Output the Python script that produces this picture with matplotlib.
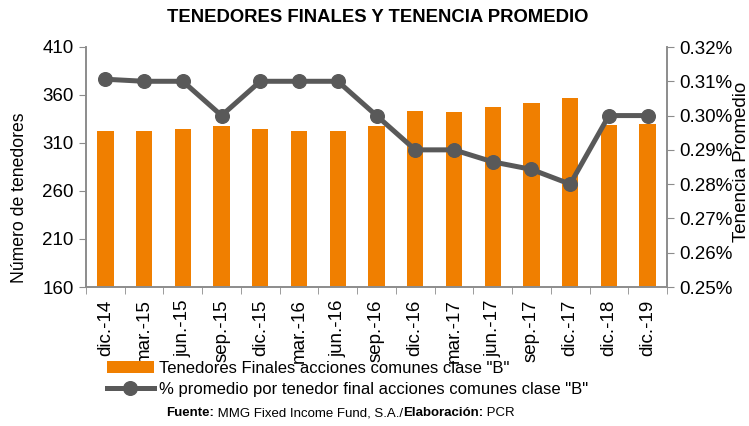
import matplotlib.pyplot as plt
from matplotlib.ticker import FuncFormatter, FixedLocator
import numpy as np

plt.rcParams['font.family'] = ['Liberation Sans', 'DejaVu Sans']

periods = ["dic.-14", "mar.-15", "jun.-15", "sep.-15", "dic.-15", "mar.-16", "jun.-16",
           "sep.-16", "dic.-16", "mar.-17", "jun.-17", "sep.-17", "dic.-17", "dic.-18", "dic.-19"]
tenedores = [322, 323, 325, 328, 325, 323, 323, 328, 343, 342, 348, 352, 357, 329, 330]
tenencia = [0.3106, 0.310, 0.310, 0.300, 0.310, 0.310, 0.310, 0.300, 0.290, 0.290,
            0.2865, 0.2843, 0.280, 0.300, 0.300]

orange = "#F07F00"
gray_line = "#595959"
spine_col = "#8C8C8C"

fig = plt.figure(figsize=(7.49, 4.26), dpi=100)
ax = fig.add_axes([86/749, 1 - 287/426, (667-86)/749, (287-47)/426])
ax2 = ax.twinx()

x = np.arange(len(periods))
bars = ax.bar(x, tenedores, width=0.42, color=orange, zorder=2)
line, = ax2.plot(x, tenencia, color=gray_line, lw=3.6, marker="o", ms=9.8, zorder=3)

ax.set_xlim(-0.5, len(periods) - 0.5)
ax.set_ylim(160, 410)
ax.set_yticks(range(160, 411, 50))
ax2.set_ylim(0.25, 0.32)
ax2.set_yticks(np.arange(0.25, 0.3201, 0.01))
ax2.yaxis.set_major_formatter(FuncFormatter(lambda v, p: f"{v:.2f}%"))

ax.set_xticks(x)
ax.set_xticklabels(periods, rotation=90)
ax.xaxis.set_minor_locator(FixedLocator(np.arange(-0.5, len(periods), 1)))
ax.tick_params(axis="x", which="major", length=0, pad=9, labelsize=13.5)
ax.tick_params(axis="x", which="minor", length=5, color=spine_col, direction="out")
ax.tick_params(axis="y", length=5, color=spine_col, labelsize=13.5, pad=4)
ax2.tick_params(axis="y", length=5, color=spine_col, labelsize=13.5, pad=4)

for a in (ax, ax2):
    a.spines["top"].set_visible(False)
    for s in ("left", "right", "bottom"):
        a.spines[s].set_color(spine_col)
        a.spines[s].set_linewidth(1.2)

fig.text(20/749, 1 - 198/426, "Número de tenedores", rotation=90,
         ha="center", va="center", fontsize=12.7)
fig.text(742/749, 1 - 162/426, "Tenencia Promedio", rotation=90,
         ha="center", va="center", fontsize=13.5)

fig.text(378/749, 1 - 18/426, "TENEDORES FINALES Y TENENCIA PROMEDIO",
         ha="center", va="center", fontsize=13.3, fontweight="bold")

fig.legend([bars, line],
           ['Tenedores Finales acciones comunes clase "B"',
            '% promedio por tenedor final acciones comunes clase "B"'],
           loc="upper left", bbox_to_anchor=(107/749, 1 - 361/426), frameon=False,
           fontsize=12, handlelength=2.8, handletextpad=0.3, labelspacing=0.35,
           borderpad=0, borderaxespad=0, markerscale=1.0)

# source line with bold parts, placed piece by piece
parts = [("Fuente:", "bold"), (" MMG Fixed Income Fund, S.A./", "normal"),
         ("Elaboración:", "bold"), (" PCR", "normal")]
fig.canvas.draw()
renderer = fig.canvas.get_renderer()
texts = []
for s, w in parts:
    t = fig.text(0, 1 - 413/426, s, fontsize=9.5, fontweight=w, ha="left", va="center")
    texts.append(t)
widths = [t.get_window_extent(renderer).width for t in texts]
xpos = 166
for t, w in zip(texts, widths):
    t.set_x(xpos / 749)
    xpos += w

fig.savefig("out.png", dpi=100)
